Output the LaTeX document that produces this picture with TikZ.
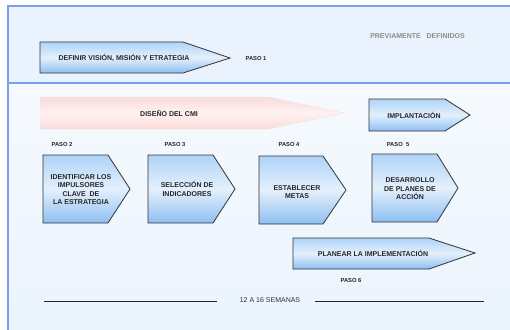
\documentclass[tikz,border=0pt]{standalone}
\usepackage{fontspec}
\setmainfont{Liberation Sans}
\definecolor{marco}{HTML}{7C9DF0}
\definecolor{fondoA}{HTML}{EAF3FD}
\definecolor{fondoB}{HTML}{F6FAFE}
\definecolor{azulA}{HTML}{AED3F8}
\definecolor{azulB}{HTML}{E4F0FC}
\definecolor{azulC}{HTML}{8DBFF2}
\definecolor{rosaA}{HTML}{FBDCDC}
\definecolor{rosaB}{HTML}{FFF1F1}
\tikzset{
  paso/.style={draw=black!80,line width=0.8pt,top color=azulA,bottom color=azulC,middle color=azulB},
  cmi/.style={draw=rosaA,line width=0.4pt,top color=rosaA,bottom color=rosaA,middle color=rosaB},
  txt/.style={font=\bfseries\fontsize{7}{8.5}\selectfont,align=center,inner sep=0pt,text=black!85},
  lbl/.style={font=\bfseries\fontsize{5.8}{7}\selectfont,inner sep=0pt,text=black!85},
}
\begin{document}
\begin{tikzpicture}[x=1pt,y=-1pt]
\useasboundingbox (0,0) rectangle (510,329);
\clip (0,0) rectangle (510,329);
% marco de fondo
\fill[white] (0,0) rectangle (510,329);
\draw[marco,line width=1.5pt,fill=fondoA] (8,6) rectangle (520,83);
\draw[marco,line width=1.5pt,top color=fondoB,bottom color=fondoA] (8,83) rectangle (520,340);
\node[font=\bfseries\fontsize{7}{8.5}\selectfont,text=black!45,inner sep=0pt] (prev) at (417.5,36) {PREVIAMENTE\ \ \ DEFINIDOS};
% paso 1
\draw[paso] (40,42) -- (183,42) -- (230,58) -- (183,73) -- (40,73) -- cycle;
\node[txt] (vision) at (124,58) {DEFINIR VISIÓN, MISIÓN Y ETRATEGIA};
\node[lbl] (P1) at (256,58.5) {PASO 1};
% diseno e implantacion
\draw[cmi] (40,97) -- (268,97) -- (344,113) -- (268,129) -- (40,129) -- cycle;
\node[txt] (diseno) at (169,113) {DISEÑO DEL CMI};
\draw[paso] (369,99) -- (445,99) -- (470,115) -- (445,131) -- (369,131) -- cycle;
\node[txt] (implan) at (414,115) {IMPLANTACIÓN};
% pasos 2 a 5
\node[lbl] (P2) at (62,145) {PASO 2};
\node[lbl] (P3) at (175,145) {PASO 3};
\node[lbl] (P4) at (289,145) {PASO 4};
\node[lbl] (P5) at (398,145) {PASO\ \ 5};
\draw[paso] (43,155) -- (108,155) -- (130,189) -- (108,223) -- (43,223) -- cycle;
\node[txt] (impuls) at (81,189.5) {IDENTIFICAR LOS\\IMPULSORES\\CLAVE\ \ DE\\LA ESTRATEGIA};
\draw[paso] (148,155) -- (213,155) -- (235,189) -- (213,223) -- (148,223) -- cycle;
\node[txt] (indic) at (187,189) {SELECCIÓN DE\\INDICADORES};
\draw[paso] (259,156) -- (323,156) -- (346,190) -- (323,224) -- (259,224) -- cycle;
\node[txt] (metas) at (297,192) {ESTABLECER\\METAS};
\draw[paso] (372,154) -- (437,154) -- (458,188) -- (437,222) -- (372,222) -- cycle;
\node[txt] (planes) at (410,189) {DESARROLLO\\DE PLANES DE\\ACCIÓN};
% paso 6
\draw[paso] (293,238) -- (429,238) -- (475,253) -- (429,269) -- (293,269) -- cycle;
\node[txt] (planear) at (373,253) {PLANEAR LA IMPLEMENTACIÓN};
\node[lbl] (P6) at (351,280) {PASO 6};
% duracion
\node[font=\fontsize{7}{8.5}\selectfont,text=black!80,inner sep=0pt] (sem) at (270,300.5) {12 A 16 SEMANAS};
\coordinate (lnA) at (44,301);
\coordinate (lnB) at (217,301);
\coordinate (lnC) at (315,301);
\coordinate (lnD) at (484,301);
\draw[black!40,line width=1.2pt] ([yshift=-0.5pt]lnA) -- ([yshift=-0.5pt]lnB);
\draw[black!40,line width=1.2pt] ([yshift=-0.5pt]lnC) -- ([yshift=-0.5pt]lnD);
\draw[black!85,line width=0.7pt] (lnA) -- (lnB);
\draw[black!85,line width=0.7pt] (lnC) -- (lnD);
\end{tikzpicture}
\end{document}
